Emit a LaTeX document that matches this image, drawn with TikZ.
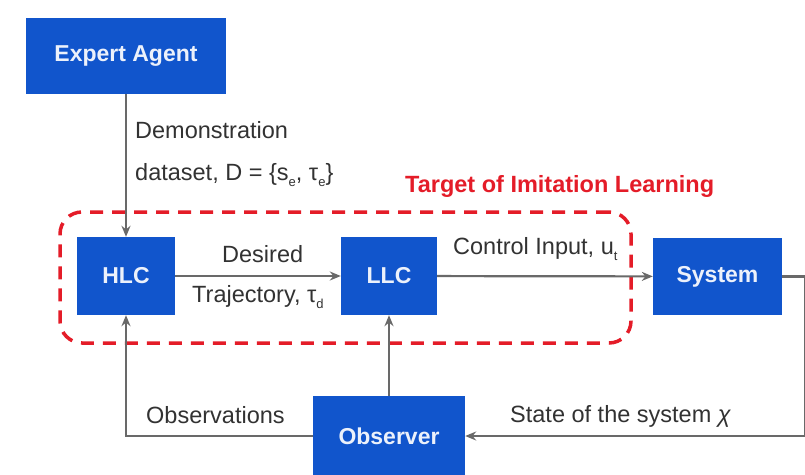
\documentclass[tikz,border=0pt]{standalone}
\usepackage{fontspec}
\setmainfont{Liberation Sans}
\usetikzlibrary{arrows.meta}
\definecolor{boxblue}{RGB}{17, 85, 204}
\definecolor{linegray}{RGB}{105, 105, 105}
\definecolor{targetred}{RGB}{228, 28, 40}
\definecolor{textgray}{RGB}{50, 50, 50}
\newcommand{\lowsub}[1]{\raisebox{-6pt}{\fontsize{13}{13}\selectfont #1}}

\begin{document}
\begin{tikzpicture}[x=1pt, y=-1pt,
    block/.style={fill=boxblue, text=white!92!boxblue, inner sep=0pt,
        font=\fontsize{23}{26}\selectfont\bfseries},
    flow/.style={draw=linegray, line width=2.2pt, -{Stealth[length=11pt,width=9pt]}},
    lbl/.style={text=textgray, inner sep=0pt, anchor=base west,
        font=\fontsize{23.5}{26}\selectfont}]
        \useasboundingbox (0,0) rectangle (805,474);

        \coordinate (ea) at (126,56);
        \coordinate (hl) at (126,276);
        \coordinate (ll) at (389,276);
        \coordinate (sy) at (717.5,276.5);
        \coordinate (ob) at (389,436);
        \coordinate (tg) at (345.5,277.5);
        \coordinate (rt) at (805,276.5);
        \coordinate (rb) at (805,436);

        % imitation learning region
        \node[draw=targetred, dash pattern=on 13pt off 9pt, line width=3.5pt,
            rounded corners=22pt, minimum width=571pt, minimum height=131pt] (target) at (tg){};
        \node[text=targetred, inner sep=0pt, anchor=base west,
            font=\fontsize{23.5}{26}\selectfont\bfseries] (targetlbl) at (405,192) {Target of Imitation Learning};

        \node[block, minimum width=200pt, minimum height=76pt] (expert) at (ea){Expert Agent};
        \node[block, minimum width=98pt, minimum height=78pt] (hlc) at (hl){HLC};
        \node[block, minimum width=96pt, minimum height=78pt] (llc) at (ll){LLC};
        \node[block, minimum width=129pt, minimum height=77pt] (system) at (sy){System};
        \node[block, minimum width=152pt, minimum height=80pt] (observer) at (ob){Observer};

        \draw[flow] (expert) -- (hlc);
        \draw[flow] (hlc) -- (llc);
        \draw[flow] (llc) -- (system);
        \draw[flow] (system.east) -- (rt) -- (rb) -- (observer.east);
        \draw[flow] (observer.west) -| (hlc.south);
        \draw[flow] (observer) -- (llc);

        \node[lbl] (demo) at (135,138) {Demonstration};
        \node[lbl] (dataset) at (135,180) {dataset, D = \{s\lowsub{e}, τ\lowsub{e}\}};
        \node[lbl] (desired) at (222,262) {Desired};
        \node[lbl] (traj) at (192,302) {Trajectory, τ\lowsub{d}};
        \node[lbl] (ctrl) at (453,254) {Control Input, u\lowsub{t}};
        \node[lbl] (obs) at (146,423) {Observations};
        \node[lbl] (state) at (510,422) {State of the system \textit{χ}};
    \end{tikzpicture}
\end{document}
